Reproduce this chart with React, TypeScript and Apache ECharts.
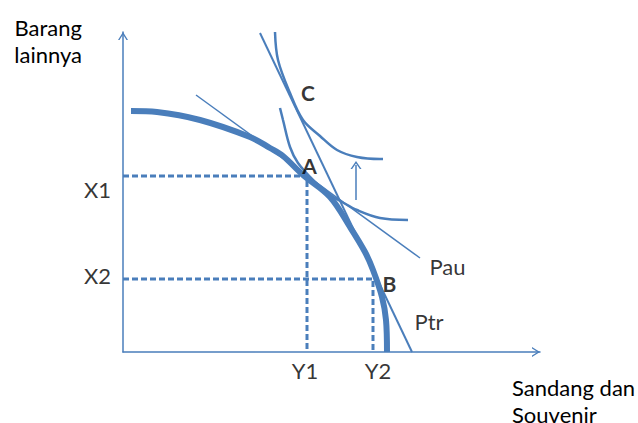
import { useEffect, useRef } from "react";
import * as echarts from "echarts";

// Production possibility frontier (thick curve)
const ppfCurve: number[][] = [
  [8, 241], [34, 240], [77, 232], [127, 215], [147, 204], [160, 196],
  [180, 177], [207, 155], [227, 125], [242, 100], [250, 82], [259, 55],
  [263, 32], [264, 0],
];
// Higher indifference curve (through C)
const upperIndifference: number[][] = [
  [152, 320], [155, 292], [167, 259], [180, 232], [197, 216], [214, 202],
  [234, 195], [257, 193], [260, 193],
];
// Lower indifference curve (through A)
const lowerIndifference: number[][] = [
  [157, 244], [160, 232], [167, 205], [175, 189], [192, 170], [207, 157],
  [219, 150], [234, 142], [257, 134], [285, 132],
];
// Price lines
const ptrLine: number[][] = [[137, 319], [289, 0]];
const pauLine: number[][] = [[73, 257], [297, 94]];
// Shift arrow
const shiftArrowFrom = [233, 152];
const shiftArrowTo = [233, 187];

// Guide levels
const levelNames = ["X1", "X2"];
const levelValues = [176, 73];
const quantityNames = ["Y1", "Y2"];
const quantityValues = [184, 250];

// Text annotations
const tickLabelTexts = ["X1", "X2", "Y1", "Y2"];
const tickLabelX = [-25.5, -25.5, 182, 255];
const tickLabelY = [162.5, 77, -18, -18];
const pointLabelTexts = ["A", "B", "C"];
const pointLabelX = [186.5, 266.5, 185];
const pointLabelY = [186.5, 69, 259.5];
const lineLabelTexts = ["Pau", "Ptr"];
const lineLabelX = [324.5, 306];
const lineLabelY = [85.5, 30.5];

const xName = "Sandang dan\nSouvenir";
const yName = "Barang\nlainnya";

const BLUE = "#4a7ebb";
const FONT = "Lato, 'Liberation Sans', sans-serif";
const CHEVRON = "path://M0,8 L5,0 L10,8 L8.5,8 L5,2.4 L1.5,8 Z";

export default function App() {
  const ref = useRef<HTMLDivElement>(null);
  useEffect(() => {
    const chart = echarts.init(ref.current!, null, { renderer: "svg" });

    const guide = (i: number) => [
      [0, levelValues[i]],
      [quantityValues[i], levelValues[i]],
      [quantityValues[i], 0],
    ];
    const dashStyle = { color: BLUE, width: 3, type: [6, 3] as any };

    const textSeries = (texts: string[], xs: number[], ys: number[], bold: boolean, name: string) => ({
      type: "scatter",
      name,
      symbolSize: 0,
      clip: false,
      silent: true,
      data: texts.map((t, i) => ({ name: t, value: [xs[i], ys[i]] })),
      label: {
        show: true,
        position: "inside",
        formatter: "{b}",
        color: "#000",
        fontSize: bold ? 21 : 22,
        fontWeight: bold ? "bold" : "normal",
        fontFamily: FONT,
      },
      z: 10,
    });

    chart.setOption({
      animation: false,
      backgroundColor: "#fff",
      grid: { left: 123, right: 98, top: 32, bottom: 71, outerBoundsMode: "none", containLabel: false } as any,
      xAxis: {
        type: "value",
        min: 0,
        max: 417,
        splitLine: { show: false },
        axisTick: { show: false },
        axisLabel: { show: false },
        axisLine: {
          show: true,
          lineStyle: { color: BLUE, width: 1.5 },
          symbol: ["none", CHEVRON],
          symbolSize: [11, 8],
          symbolOffset: [0, -4],
        },
        name: xName,
        nameLocation: "end",
        nameGap: -28,
        nameTextStyle: {
          align: "left",
          verticalAlign: "top",
          padding: [22, 0, 0, 0],
          fontSize: 22,
          lineHeight: 27,
          color: "#000",
          fontFamily: FONT,
        },
      },
      yAxis: {
        type: "value",
        min: 0,
        max: 320,
        splitLine: { show: false },
        axisTick: { show: false },
        axisLabel: { show: false },
        axisLine: {
          show: true,
          lineStyle: { color: BLUE, width: 1.5 },
          symbol: ["none", CHEVRON],
          symbolSize: [11, 8],
          symbolOffset: [0, -4],
        },
        name: yName,
        nameLocation: "end",
        nameGap: -9,
        nameTextStyle: {
          align: "right",
          verticalAlign: "middle",
          padding: [0, 41, 0, 0],
          fontSize: 22,
          lineHeight: 27,
          color: "#000",
          fontFamily: FONT,
        },
      },
      series: [
        { type: "line", name: levelNames[0], data: guide(0), symbol: "none", lineStyle: dashStyle, silent: true },
        { type: "line", name: levelNames[1], data: guide(1), symbol: "none", lineStyle: dashStyle, silent: true },
        {
          type: "line", name: "PPF", data: ppfCurve, smooth: 0.35, symbol: "none",
          lineStyle: { color: BLUE, width: 6 }, z: 3,
        },
        {
          type: "line", name: "IC2", data: upperIndifference, smooth: 0.35, symbol: "none",
          lineStyle: { color: BLUE, width: 2.5 },
          markLine: {
            silent: true,
            symbol: ["none", CHEVRON],
            symbolSize: [11, 8],
            label: { show: false },
            lineStyle: { color: BLUE, width: 1.5, type: "solid" },
            data: [[{ coord: shiftArrowFrom }, { coord: shiftArrowTo }]],
          },
        },
        {
          type: "line", name: "IC1", data: lowerIndifference, smooth: 0.35, symbol: "none",
          lineStyle: { color: BLUE, width: 2.5 },
        },
        { type: "line", name: "Ptr", data: ptrLine, symbol: "none", lineStyle: { color: BLUE, width: 2 } },
        { type: "line", name: "Pau", data: pauLine, symbol: "none", lineStyle: { color: BLUE, width: 1.5 } },
        textSeries(tickLabelTexts, tickLabelX, tickLabelY, false, "ticks"),
        textSeries(pointLabelTexts, pointLabelX, pointLabelY, true, "points"),
        textSeries(lineLabelTexts, lineLabelX, lineLabelY, false, "lines"),
      ],
    });
    return () => chart.dispose();
  }, []);
  return (
    <div
      ref={ref}
      style={{ position: "fixed", left: 0, top: 0, width: 638, height: 423, background: "#fff" }}
    />
  );
}
